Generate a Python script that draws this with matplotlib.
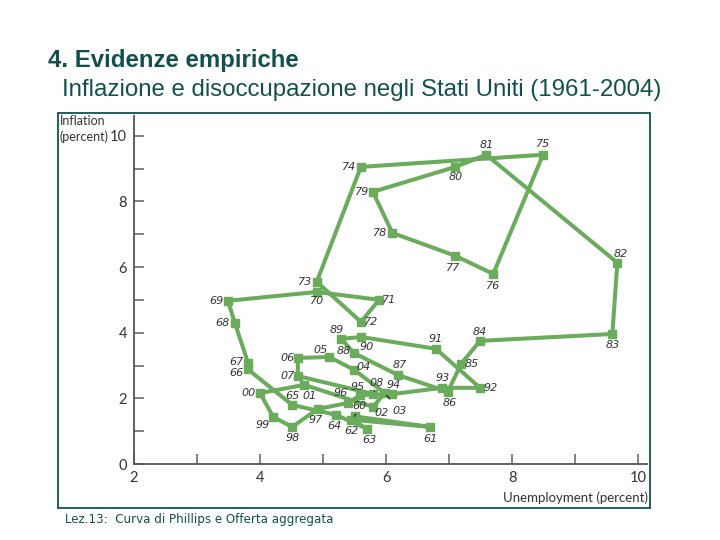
import matplotlib
matplotlib.use("Agg")
import matplotlib.pyplot as plt
from matplotlib.patches import Rectangle

# US unemployment (%) vs inflation (%), 1960-2008
years = ["60", "61", "62", "63", "64", "65", "66", "67", "68", "69",
         "70", "71", "72", "73", "74", "75", "76", "77", "78", "79",
         "80", "81", "82", "83", "84", "85", "86", "87", "88", "89",
         "90", "91", "92", "93", "94", "95", "96", "97", "98", "99",
         "00", "01", "02", "03", "04", "05", "06", "07", "08"]
unemployment = [5.50, 6.70, 5.45, 5.70, 5.20, 4.51, 3.81, 3.81, 3.60, 3.49,
                4.90, 5.89, 5.60, 4.90, 5.60, 8.49, 7.70, 7.10, 6.10, 5.79,
                7.10, 7.59, 9.67, 9.59, 7.49, 7.19, 6.98, 6.19, 5.49, 5.29,
                5.60, 6.79, 7.49, 6.89, 6.10, 5.59, 5.40, 4.92, 4.51, 4.21,
                4.00, 4.70, 5.79, 5.98, 5.49, 5.10, 4.60, 4.60, 5.80]
inflation = [1.45, 1.13, 1.35, 1.07, 1.50, 1.80, 2.88, 3.08, 4.30, 4.97,
             5.24, 5.00, 4.33, 5.55, 9.05, 9.42, 5.79, 6.34, 7.04, 8.29,
             9.05, 9.42, 6.13, 3.96, 3.75, 3.05, 2.20, 2.71, 3.38, 3.81,
             3.87, 3.51, 2.32, 2.32, 2.13, 2.10, 1.86, 1.68, 1.13, 1.43,
             2.16, 2.41, 1.74, 2.16, 2.87, 3.26, 3.23, 2.68, 2.13]

# label offsets in pixels (dx, dy) relative to each point
offsets = {
    "60": (5, 10), "61": (0, -12), "62": (0, -11), "63": (2, -11), "64": (-1, -11),
    "65": (0, 9), "66": (-12, -4), "67": (-12, 1), "68": (-12, 0), "69": (-11, 0),
    "70": (0, -9), "71": (10, 0), "72": (10, 0), "73": (-12, 0), "74": (-12, 0),
    "75": (0, 11), "76": (0, -12), "77": (-2, -12), "78": (-12, 0), "79": (-11, 0),
    "80": (0, -10), "81": (0, 10), "82": (3, 9), "83": (0, -11), "84": (0, 9),
    "85": (11, 0), "86": (2, -11), "87": (2, 10), "88": (-10, 2), "89": (-5, 9),
    "90": (6, -10), "91": (0, 10), "92": (11, 0), "93": (0, 10), "94": (1, 9),
    "95": (-3, 8), "96": (-8, 10), "97": (-2, -11), "98": (0, -11), "99": (-11, -8),
    "00": (-11, 0), "01": (5, -11), "02": (9, -6), "03": (15, -18), "04": (10, 3),
    "05": (-9, 7), "06": (-10, 0), "07": (-10, 0), "08": (3, 11),
}
leaders = ["60", "03", "08"]

teal = "#12504f"
green = "#6aab5c"
axis_grey = "#555555"
label_font = "Lato"

fig = plt.figure(figsize=(7.2, 5.4), dpi=100)

fig.text(48 / 720, 1 - 60 / 540, "4. Evidenze empiriche", fontsize=17.3, fontweight="bold",
         color=teal, family="Liberation Sans", ha="left", va="center")
fig.text(62 / 720, 1 - 90 / 540, "Inflazione e disoccupazione negli Stati Uniti (1961-2004)",
         fontsize=17.3, color=teal, family="Liberation Sans", ha="left", va="center")
fig.text(65 / 720, 1 - 520 / 540, "Lez.13:  Curva di Phillips e Offerta aggregata",
         fontsize=8.6, color=teal, family="DejaVu Sans", ha="left", va="center")

# border around the image area
fig.patches.append(Rectangle((58 / 720, 32 / 540), 592 / 720, 395 / 540, transform=fig.transFigure,
                             fill=False, edgecolor=teal, lw=1.3))

ax = fig.add_axes([134 / 720, 76 / 540, 513 / 720, 348 / 540])
ax.plot(unemployment, inflation, color=green, lw=2.9, marker="s", ms=6,
        solid_joinstyle="miter", zorder=3)

for yr, u, p in zip(years, unemployment, inflation):
    dx, dy = offsets[yr]
    if yr in leaders:
        ax.annotate(yr, (u, p), xytext=(dx, dy), textcoords="offset pixels",
                    fontsize=8, style="italic", color="#333333", ha="center", va="center",
                    arrowprops=dict(arrowstyle="-", color="black", lw=0.7, shrinkA=4, shrinkB=2),
                    zorder=4)
    else:
        ax.annotate(yr, (u, p), xytext=(dx, dy), textcoords="offset pixels",
                    fontsize=8, style="italic", color="#333333", ha="center", va="center",
                    zorder=4)

ax.set_xlim(2, 10.14)
ax.set_ylim(0, 10.6)
ax.set_xticks([2, 4, 6, 8, 10])
ax.set_xticks([3, 5, 7, 9], minor=True)
ax.set_yticks([0, 2, 4, 6, 8, 10])
ax.set_yticks([1, 3, 5, 7, 9], minor=True)
ax.tick_params(which="both", direction="in", length=7, width=1.3, color="#777777",
               labelsize=10.5, labelcolor="#333333", pad=5)
for lbl in ax.get_xticklabels() + ax.get_yticklabels():
    lbl.set_family(label_font)
for side in ["top", "right"]:
    ax.spines[side].set_visible(False)
for side in ["left", "bottom"]:
    ax.spines[side].set_color(axis_grey)
    ax.spines[side].set_linewidth(1.3)

fig.text(60 / 720, 1 - 121 / 540, "Inflation", fontsize=9, color="#333333", family=label_font,
         ha="left", va="center")
fig.text(60 / 720, 1 - 137 / 540, "(percent)", fontsize=9, color="#333333", family=label_font,
         ha="left", va="center")
fig.text(648 / 720, 1 - 498 / 540, "Unemployment (percent)", fontsize=9.5, color="#333333",
         family=label_font, ha="right", va="center")

fig.savefig("out.png", dpi=100)
